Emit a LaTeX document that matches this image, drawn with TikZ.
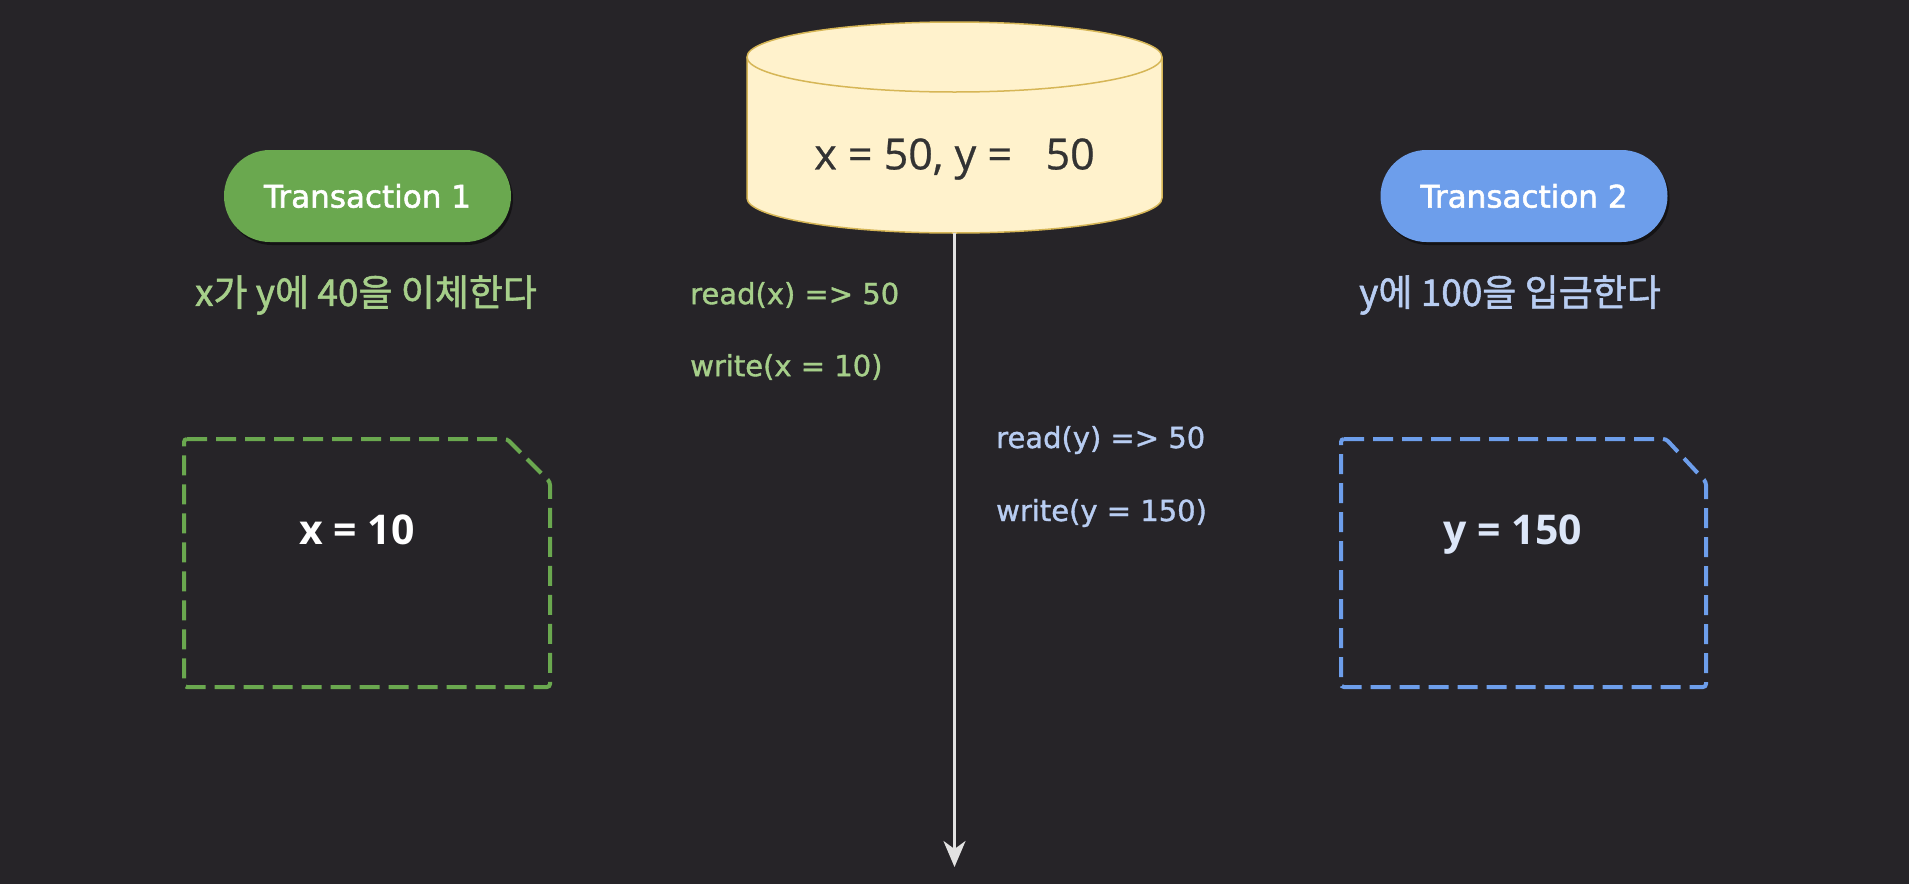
\documentclass[tikz,border=0pt]{standalone}
\usepackage{fontspec}
\setmainfont{Open Sans}
\newfontfamily\codefont[FakeBold=1.2]{DejaVu Sans}
\newfontfamily\pillfont[FakeBold=1.8]{DejaVu Sans}
\newfontfamily\krfont[FakeBold=1.4]{Noto Sans CJK KR}
\newfontfamily\numfont[FakeBold=0.6]{Open Sans}
\usetikzlibrary{arrows.meta,shadows}
\definecolor{bg}{HTML}{262428}
\definecolor{gpill}{HTML}{6AA84F}
\definecolor{bpill}{HTML}{6D9EEB}
\definecolor{gtext}{HTML}{A6CF8A}
\definecolor{btext}{HTML}{B8CDF2}
\definecolor{cylfill}{HTML}{FFF2CC}
\definecolor{cyldraw}{HTML}{D6B656}
\definecolor{numtext}{HTML}{333333}
\definecolor{timeline}{HTML}{E2E2E2}
\definecolor{bval}{HTML}{DCE6F8}
\tikzset{
  pill/.style={rounded corners=46pt, minimum width=287pt, minimum height=92pt, text=white,
    font=\pillfont\fontsize{31}{36}\selectfont, inner sep=0pt,
    drop shadow={shadow xshift=2pt, shadow yshift=-3pt, opacity=0.45, fill=black}},
  code/.style={anchor=west, inner sep=0pt, font=\codefont\fontsize{29}{34}\selectfont},
  kor/.style={inner sep=0pt, font=\krfont\fontsize{37}{42}\selectfont},
  memo/.style={dashed, dash pattern=on 20pt off 9pt, line width=4pt, rounded corners=3pt},
  val/.style={inner sep=0pt, font=\bfseries\fontsize{41}{44}\selectfont}
}
\begin{document}
\begin{tikzpicture}[x=1pt,y=-1pt]
\fill[bg] (0,0) rectangle (1909,884);
\useasboundingbox (0,0) rectangle (1909,884);
% database cylinder
\path[fill=cylfill, draw=cyldraw, line width=1.5pt]
  (747,57) -- (747,198) arc[start angle=180, end angle=0, x radius=207.5, y radius=35]
  -- (1162,57) arc[start angle=0, end angle=-180, x radius=207.5, y radius=35] -- cycle;
\draw[cyldraw, line width=1.5pt] (747,57) arc[start angle=180, end angle=0, x radius=207.5, y radius=35];
\node[inner sep=0pt, text=numtext, font=\numfont\fontsize{43}{46}\selectfont] (db) at (954.5,159) {x = 50, y = \ \ 50};
\coordinate (dbbottom) at (954.5,233);
\coordinate (timeend) at (954.5,867);
\draw[timeline, line width=3pt, -{Stealth[length=26pt, width=22pt, inset=8pt]}] (dbbottom) -- (timeend);
% transactions
\node[pill, fill=gpill] (t1) at (367.5,196) {Transaction 1};
\node[pill, fill=bpill] (t2) at (1524,196) {Transaction 2};
\node[kor, text=gtext] (d1) at (366,295) {x가 y에 40을 이체한다};
\node[kor, text=btext] (d2) at (1510,295) {y에 100을 입금한다};
% operations
\node[code, text=gtext] (r1) at (690,295) {read(x) => 50};
\node[code, text=gtext] (w1) at (690,367) {write(x = 10)};
\node[code, text=btext] (r2) at (996,440) {read(y) => 50};
\node[code, text=btext] (w2) at (996,513) {write(y = 150)};
% local memory boxes
\draw[memo, gpill] (184,439) -- (507,439) -- (550,482) -- (550,687) -- (184,687) -- cycle;
\draw[memo, bpill] (1341,439) -- (1666,439) -- (1706,482) -- (1706,687) -- (1341,687) -- cycle;
\node[val, text=white] (v1) at (357,530) {x = 10};
\node[val, text=bval] (v2) at (1513,535) {y = 150};
\end{tikzpicture}
\end{document}
